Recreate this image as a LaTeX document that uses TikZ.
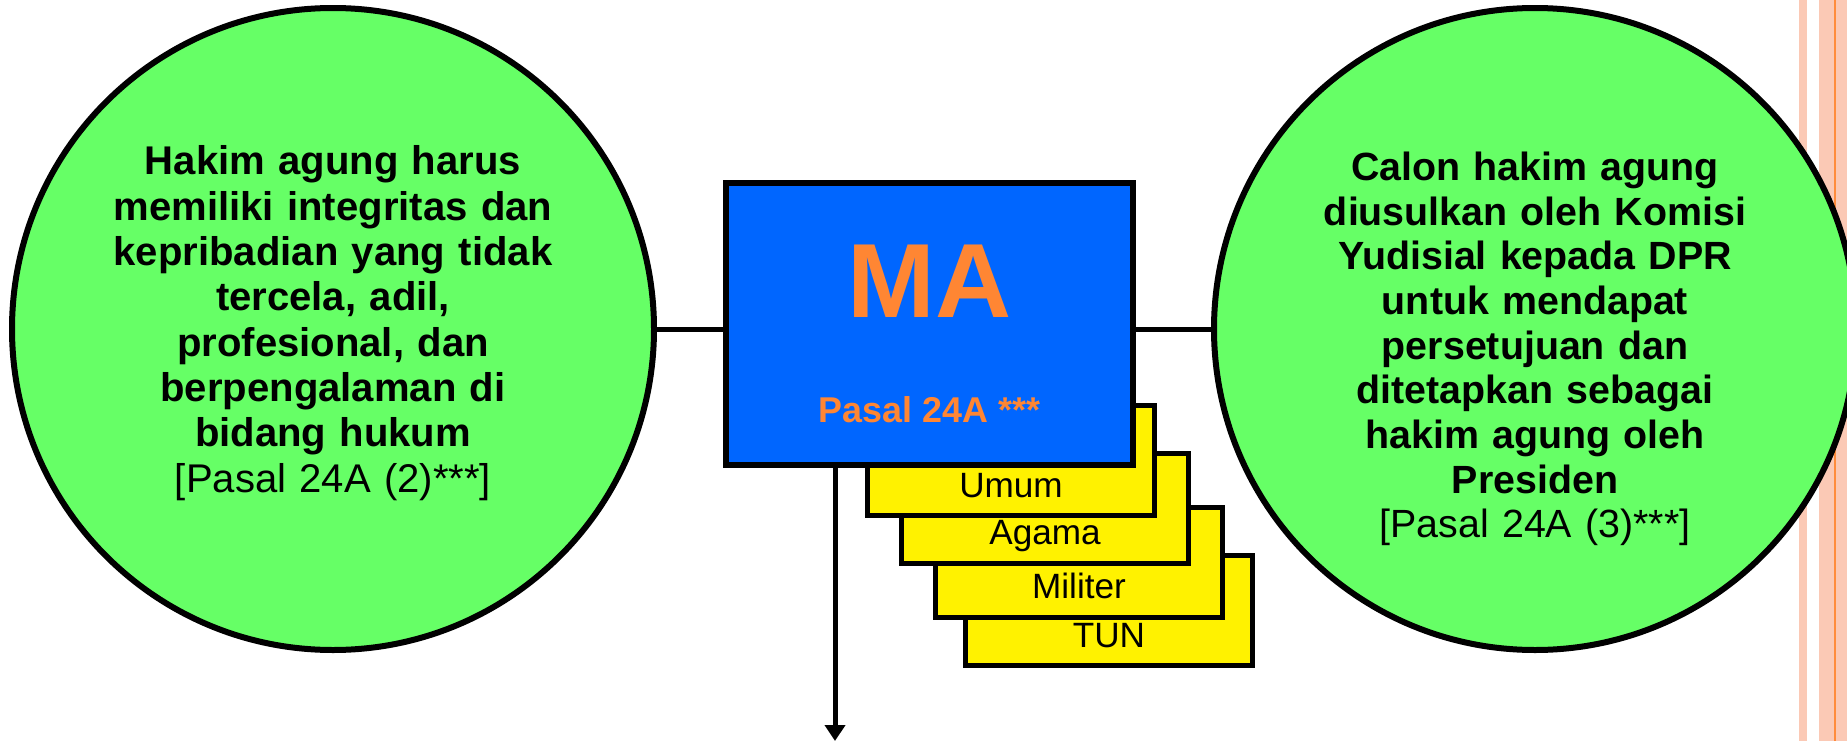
\documentclass[tikz,border=0pt]{standalone}
\usepackage{fontspec}
\setmainfont{Liberation Sans}
\usetikzlibrary{arrows.meta,positioning,calc}
\definecolor{circgreen}{RGB}{102,255,102}
\definecolor{mablue}{RGB}{0,102,255}
\definecolor{maorange}{RGB}{255,134,51}
\definecolor{stripe}{RGB}{251,201,181}
\definecolor{stripeline}{RGB}{255,140,60}

\begin{document}
\begin{tikzpicture}[
  circ/.style={circle, draw, line width=0.06cm, fill=circgreen,
               minimum size=6.42cm, inner sep=0pt},
  circtxt/.style={align=center, text width=5.4cm},
  mabox/.style={draw, line width=0.06cm, fill=mablue, inner sep=0pt,
                minimum width=4.07cm, minimum height=2.82cm},
  court/.style={draw, line width=0.05cm, fill=yellow, inner sep=0pt,
                minimum width=2.87cm, minimum height=1.10cm,
                text height=0.73cm, text depth=0pt,
                font=\fontsize{10}{12}\selectfont},
  link/.style={line width=0.05cm},
  arr/.style={-{Triangle[length=1.6mm, width=2.0mm]}, line width=0.05cm}
]
\useasboundingbox (0,0) rectangle (18.47,7.41);
% stripes at the right edge
\fill[stripe] (17.99,0) rectangle (18.07,7.41);
\fill[stripe] (18.19,0) rectangle (18.47,7.41);
\draw[stripeline, line width=0.02cm] (18.35,0) -- (18.35,7.41);

% the four courts, back to front
\node[court] (tun) at (11.09,1.305) {TUN};
\node[court] (mil) at (10.79,1.79)  {Militer};
\node[court] (ag)  at (10.45,2.33)  {Agama};
\node[court] (um)  at (10.11,2.805) {Umum};

\node[mabox] (ma) at (9.295,4.17) {};
\node[font=\fontsize{30}{36}\selectfont\bfseries, text=maorange]
  (matitle) at ([yshift=0.43cm]ma.center) {MA};
\node[font=\fontsize{10.2}{12}\selectfont\bfseries, text=maorange]
  (mapasal) at ([yshift=-0.86cm]ma.center) {Pasal 24A ***};

\node[circ] (lc) at (3.33,4.12) {};
\node[circ] (rc) at (15.35,4.12) {};
\node[circtxt, font=\fontsize{11.4}{12.9}\selectfont] (lctxt) at ([yshift=0.06cm]lc.center)
  {\bfseries Hakim agung harus\\memiliki integritas dan\\kepribadian yang tidak\\
   tercela, adil,\\profesional, dan\\berpengalaman di\\bidang hukum\\
   \mdseries{[}Pasal 24A (2)***{]}};
\node[circtxt, font=\fontsize{11.2}{12.7}\selectfont] (rctxt) at ([yshift=-0.2cm]rc.center)
  {\bfseries Calon hakim agung\\diusulkan oleh Komisi\\Yudisial kepada DPR\\
   untuk mendapat\\persetujuan dan\\ditetapkan sebagai\\hakim agung oleh\\Presiden\\
   \mdseries{[}Pasal 24A (3)***{]}};

\draw[link] (lc.east) -- (lc.east -| ma.west);
\draw[link] (ma.east |- rc.west) -- (rc.west);
\coordinate (down) at (8.35,0);
\draw[arr] (ma.south -| down) -- (down);
\end{tikzpicture}
\end{document}
